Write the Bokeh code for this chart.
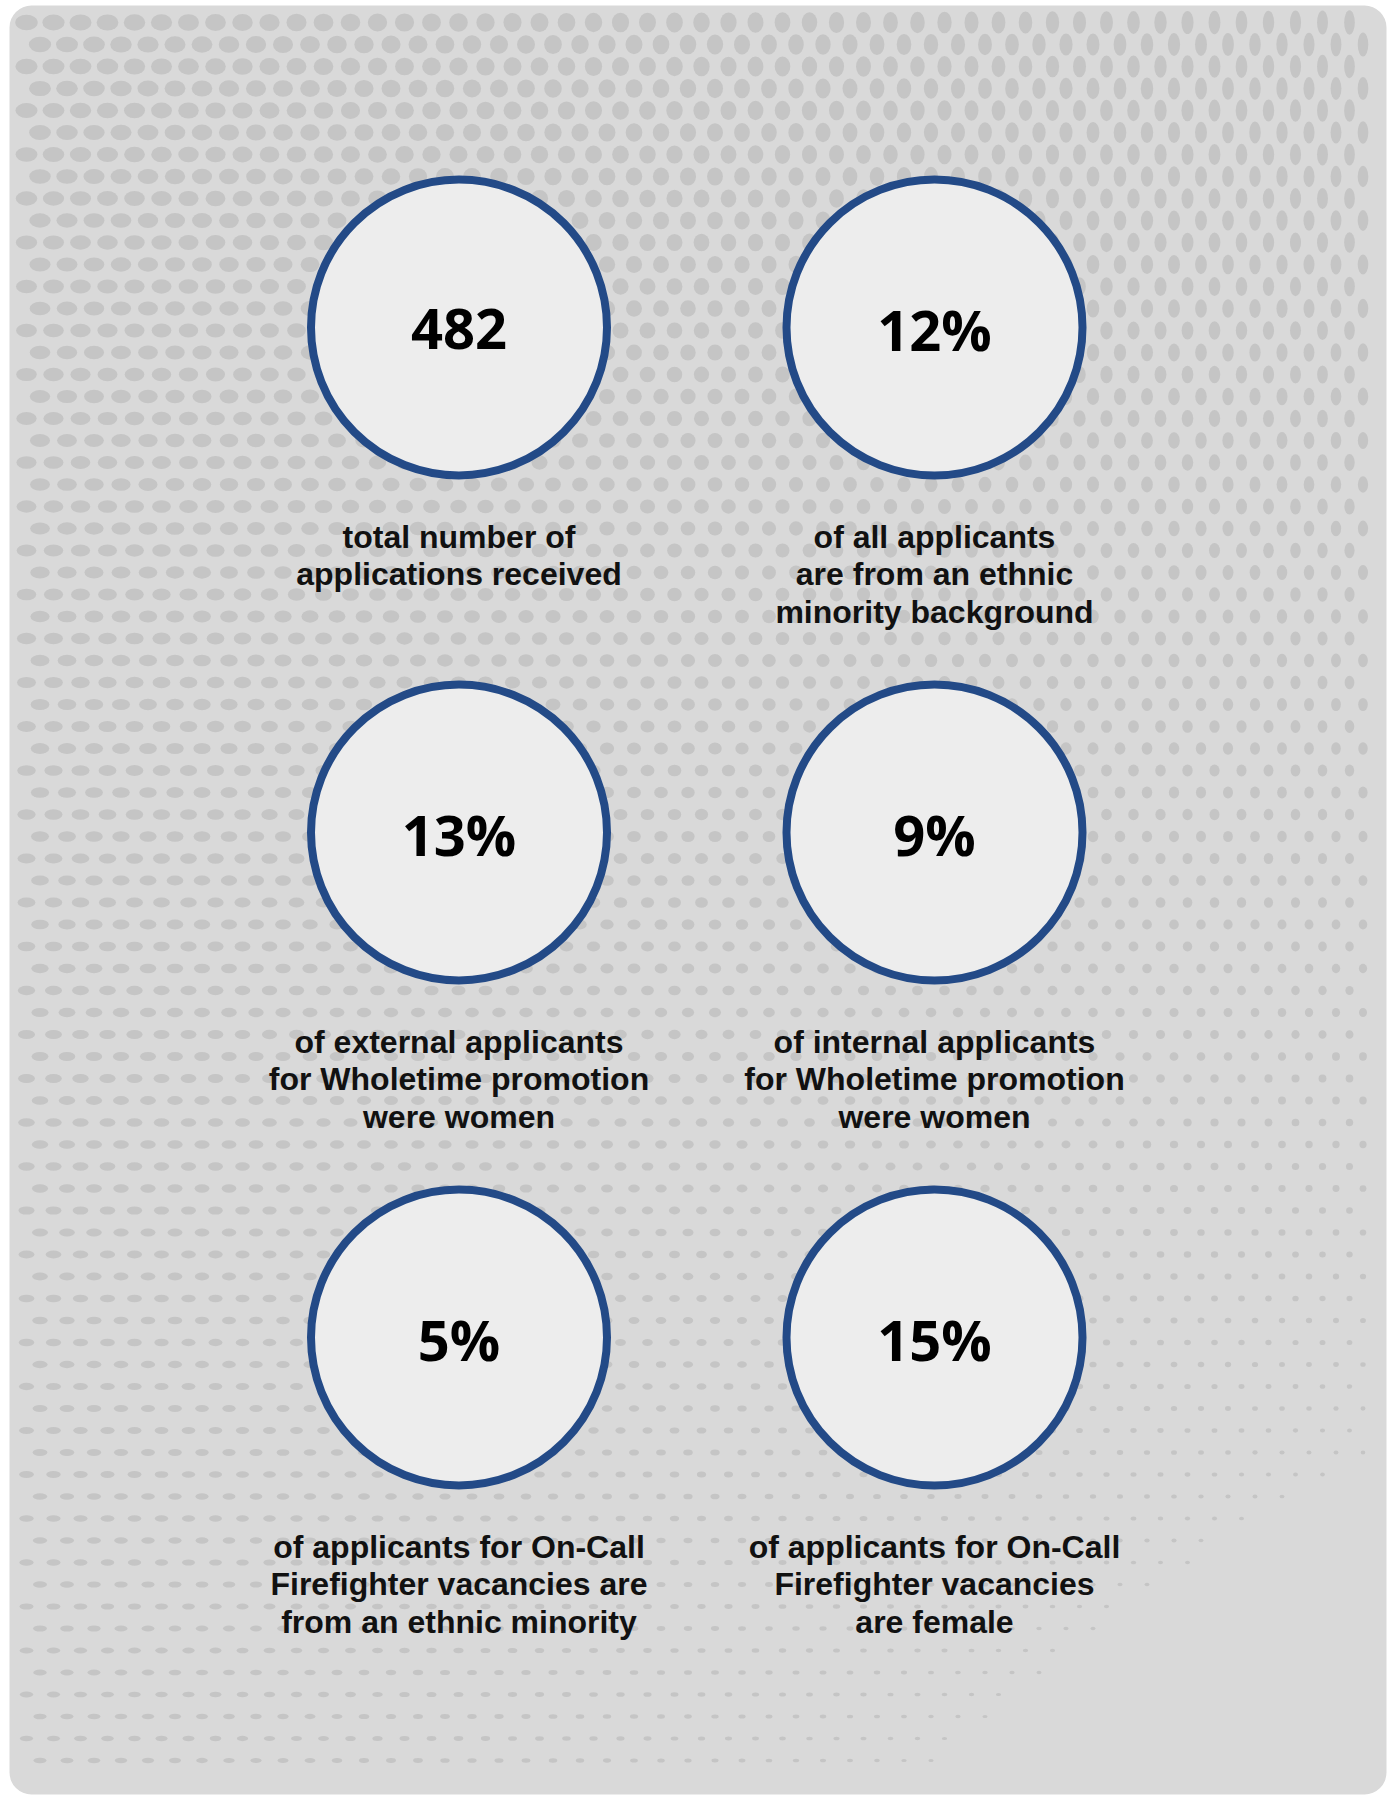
import numpy as np
from bokeh.plotting import figure
from bokeh.models import Range1d, ColumnDataSource
from bokeh.core.properties import value
from bokeh.embed import file_html
from bokeh.resources import INLINE

# ---- data ----
stat_values = ["482", "12%", "13%", "9%", "5%", "15%"]
stat_labels = [
    "total number of\napplications received",
    "of all applicants\nare from an ethnic\nminority background",
    "of external applicants\nfor Wholetime promotion\nwere women",
    "of internal applicants\nfor Wholetime promotion\nwere women",
    "of applicants for On-Call\nFirefighter vacancies are\nfrom an ethnic minority",
    "of applicants for On-Call\nFirefighter vacancies\nare female",
]
grid_cols = [0, 1, 0, 1, 0, 1]
grid_rows = [0, 0, 1, 1, 2, 2]

# ---- layout (pixels) ----
W, H = 1391, 1795
col_x = [458.5, 934.0]
row_y = [327.0, 832.0, 1337.0]
R = 148
line_offsets = [209, 246.5, 284]

p = figure(width=W, height=H, output_backend="svg", toolbar_location=None,
           x_range=Range1d(0, W), y_range=Range1d(H, 0),
           min_border=0, outline_line_color=None,
           background_fill_color="white", border_fill_color="white")
p.axis.visible = False
p.grid.visible = False

# panel
p.quad(left=9, right=1386, top=5, bottom=1794, fill_color="#d9d9d9",
       line_color=None, border_radius=22)

# decorative halftone texture (background only, not data)
gx, gy = [], []
for j, yy in enumerate(np.arange(22, 1780, 22)):
    off = 13.5 if j % 2 else 0
    for xx in np.arange(26 + off, 1372, 27):
        gx.append(xx)
        gy.append(yy)
gx = np.array(gx, dtype=float)
gy = np.array(gy, dtype=float)
u = gx / W
v = gy / H
s = np.clip(1 - 0.5 * v - 0.65 * u * v, 0, 1)
keep = s > 0.08
gx, gy, u, v, s = gx[keep], gy[keep], u[keep], v[keep], s[keep]
tw = 1.2 * (16 * s + 3) * (1 - 0.55 * u * (1 - v))
th = 1.2 * (11 * s + 2) * (1 + 0.6 * u * (1 - v)) * (1 - 0.4 * v * (1 - u))
tex = ColumnDataSource(dict(x=gx, y=gy, w=tw, h=th))
p.ellipse(x="x", y="y", width="w", height="h", source=tex,
          width_units="screen", height_units="screen",
          fill_color="#c5c5c5", line_color=None)

cx = [col_x[c] for c in grid_cols]
cy = [row_y[r] for r in grid_rows]

src = ColumnDataSource(dict(x=cx, y=cy, v=stat_values))
p.circle(x="x", y="y", radius=R, source=src, fill_color="#ededed",
         line_color="#234a87", line_width=8)
p.text(x="x", y="y", text="v", source=src, text_align="center",
       text_baseline="middle", text_font=value("Open Sans"),
       text_font_style="bold", text_font_size="56px", text_color="#000000",
       y_offset=1)

lx, ly, lt = [], [], []
for x, y, lab in zip(cx, cy, stat_labels):
    for i, line in enumerate(lab.split("\n")):
        lx.append(x)
        ly.append(y + line_offsets[i])
        lt.append(line)
lsrc = ColumnDataSource(dict(x=lx, y=ly, t=lt))
p.text(x="x", y="y", text="t", source=lsrc, text_align="center",
       text_baseline="alphabetic", text_font=value("Liberation Sans"),
       text_font_style="bold", text_font_size="32px", text_color="#111111")

open("out.html", "w").write(file_html(p, INLINE))
